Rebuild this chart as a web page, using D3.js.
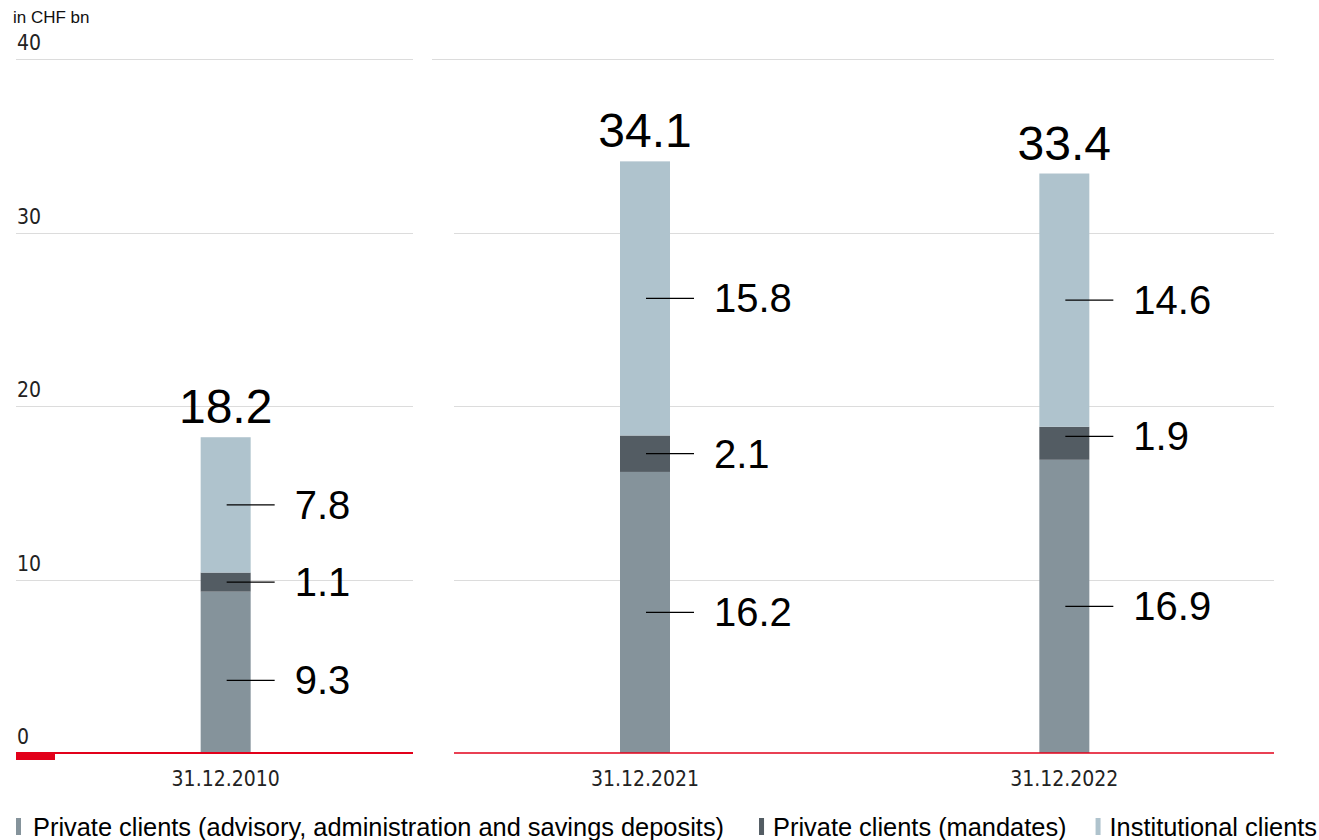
<!DOCTYPE html>
<html>
<head>
<meta charset="utf-8">
<script src="https://cdn.jsdelivr.net/npm/d3@7/dist/d3.min.js"></script>
<style>
  html, body { margin: 0; padding: 0; background: #fff; }
  svg { display: block; }
</style>
</head>
<body>
<svg id="chart" width="1319" height="840"></svg>
<script>
// Client assets by segment, in CHF bn
const categories = ["31.12.2010", "31.12.2021", "31.12.2022"];
const seriesNames = [
  "Private clients (advisory, administration and savings deposits)",
  "Private clients (mandates)",
  "Institutional clients"
];
const advisoryValues = [9.3, 16.2, 16.9];
const mandateValues = [1.1, 2.1, 1.9];
const institutionalValues = [7.8, 15.8, 14.6];
const totals = [18.2, 34.1, 33.4];
const yTicks = [0, 10, 20, 30, 40];
const unitLabel = "in CHF bn";

const colors = ["#85939b", "#535c63", "#afc3cd"];
const red = "#e2001a";
const condensed = "'Liberation Sans Narrow', 'DejaVu Sans Condensed', 'Arial Narrow', sans-serif";
const sans = "'Liberation Sans', Arial, sans-serif";

const svg = d3.select("#chart");

const y = d3.scaleLinear().domain([0, 40]).range([753, 59]);
const x = d3.scalePoint().domain(categories).range([16, 1274]).padding(0.5);
const barW = 50;

// Two panels: the first category is set apart from the other two
const panels = [
  { x0: 16, x1: 413, topX0: 16 },
  { x0: 454, x1: 1274, topX0: 432 }
];

// Gridlines
panels.forEach(p => {
  svg.append("g").selectAll("line")
    .data(yTicks.filter(t => t > 0))
    .join("line")
    .attr("x1", t => t === 40 ? p.topX0 : p.x0)
    .attr("x2", p.x1)
    .attr("y1", t => Math.round(y(t)) + 0.5)
    .attr("y2", t => Math.round(y(t)) + 0.5)
    .attr("stroke", "#dcdcdc")
    .attr("stroke-width", 1.2);
});

// Y tick labels
svg.append("g").selectAll("text")
  .data(yTicks)
  .join("text")
  .attr("x", 17)
  .attr("y", t => y(t) - 9)
  .attr("font-family", condensed)
  .attr("font-size", 21)
  .attr("fill", "#222")
  .text(t => t);

svg.append("text")
  .attr("x", 13).attr("y", 23)
  .attr("font-family", sans)
  .attr("font-size", 17)
  .attr("fill", "#111")
  .text(unitLabel);

// Stack the three series
const rows = categories.map((c, i) => ({
  cat: c,
  s0: advisoryValues[i],
  s1: mandateValues[i],
  s2: institutionalValues[i]
}));
const stack = d3.stack().keys(["s0", "s1", "s2"]);
const stacked = stack(rows);

const barsG = svg.append("g");
stacked.forEach((layer, li) => {
  barsG.append("g").selectAll("rect")
    .data(layer)
    .join("rect")
    .attr("x", d => x(d.data.cat) - barW / 2)
    .attr("width", barW)
    .attr("y", d => y(d[1]))
    .attr("height", d => y(d[0]) - y(d[1]))
    .attr("fill", colors[li]);
});

// Baselines
svg.append("line")
  .attr("x1", panels[0].x0).attr("x2", panels[0].x1)
  .attr("y1", y(0)).attr("y2", y(0))
  .attr("stroke", red).attr("stroke-width", 2);
svg.append("line")
  .attr("x1", panels[1].x0).attr("x2", panels[1].x1)
  .attr("y1", y(0)).attr("y2", y(0))
  .attr("stroke", red).attr("stroke-width", 1.3);
svg.append("rect")
  .attr("x", 16).attr("y", y(0) - 1)
  .attr("width", 39).attr("height", 8)
  .attr("fill", red);

// Segment value labels with leader lines; a few labels are nudged
// vertically (in px) so they sit clear of neighbouring labels
const labelNudge = { "0-0": 8, "1-2": -7 };
const labelsG = svg.append("g");
stacked.forEach((layer, li) => {
  const ly = (d, i) => y((d[0] + d[1]) / 2) + (labelNudge[li + "-" + i] || 0);
  const g = labelsG.append("g");
  g.selectAll("line")
    .data(layer)
    .join("line")
    .attr("x1", d => x(d.data.cat) + 1)
    .attr("x2", d => x(d.data.cat) + 49)
    .attr("y1", ly)
    .attr("y2", ly)
    .attr("stroke", "#000")
    .attr("stroke-width", 1.3);
  g.selectAll("text")
    .data(layer)
    .join("text")
    .attr("x", d => x(d.data.cat) + 69)
    .attr("y", (d, i) => ly(d, i) + 14)
    .attr("font-family", sans)
    .attr("font-size", 40)
    .attr("fill", "#000")
    .text(d => d3.format(".1f")(d[1] - d[0]));
});

// Totals above bars
svg.append("g").selectAll("text")
  .data(categories)
  .join("text")
  .attr("x", c => x(c))
  .attr("y", (c, i) => y(totals[i]) - 14)
  .attr("text-anchor", "middle")
  .attr("font-family", sans)
  .attr("font-size", 48)
  .attr("fill", "#000")
  .text((c, i) => d3.format(".1f")(totals[i]));

// Category labels
svg.append("g").selectAll("text")
  .data(categories)
  .join("text")
  .attr("x", c => x(c))
  .attr("y", 786)
  .attr("text-anchor", "middle")
  .attr("font-family", condensed)
  .attr("font-size", 21)
  .attr("fill", "#222")
  .text(c => c);

// Legend
const legend = svg.append("g");
const legendGaps = [35, 29];
let lx = 16;
seriesNames.forEach((name, i) => {
  legend.append("rect")
    .attr("x", lx).attr("y", 818)
    .attr("width", 5).attr("height", 17)
    .attr("fill", colors[i]);
  const tx = lx + (i === 0 ? 17 : 14);
  const t = legend.append("text")
    .attr("x", tx).attr("y", 836)
    .attr("font-family", sans)
    .attr("font-size", 25.4)
    .attr("fill", "#000")
    .text(name);
  lx = tx + t.node().getComputedTextLength() + (legendGaps[i] || 0);
});
</script>
</body>
</html>
